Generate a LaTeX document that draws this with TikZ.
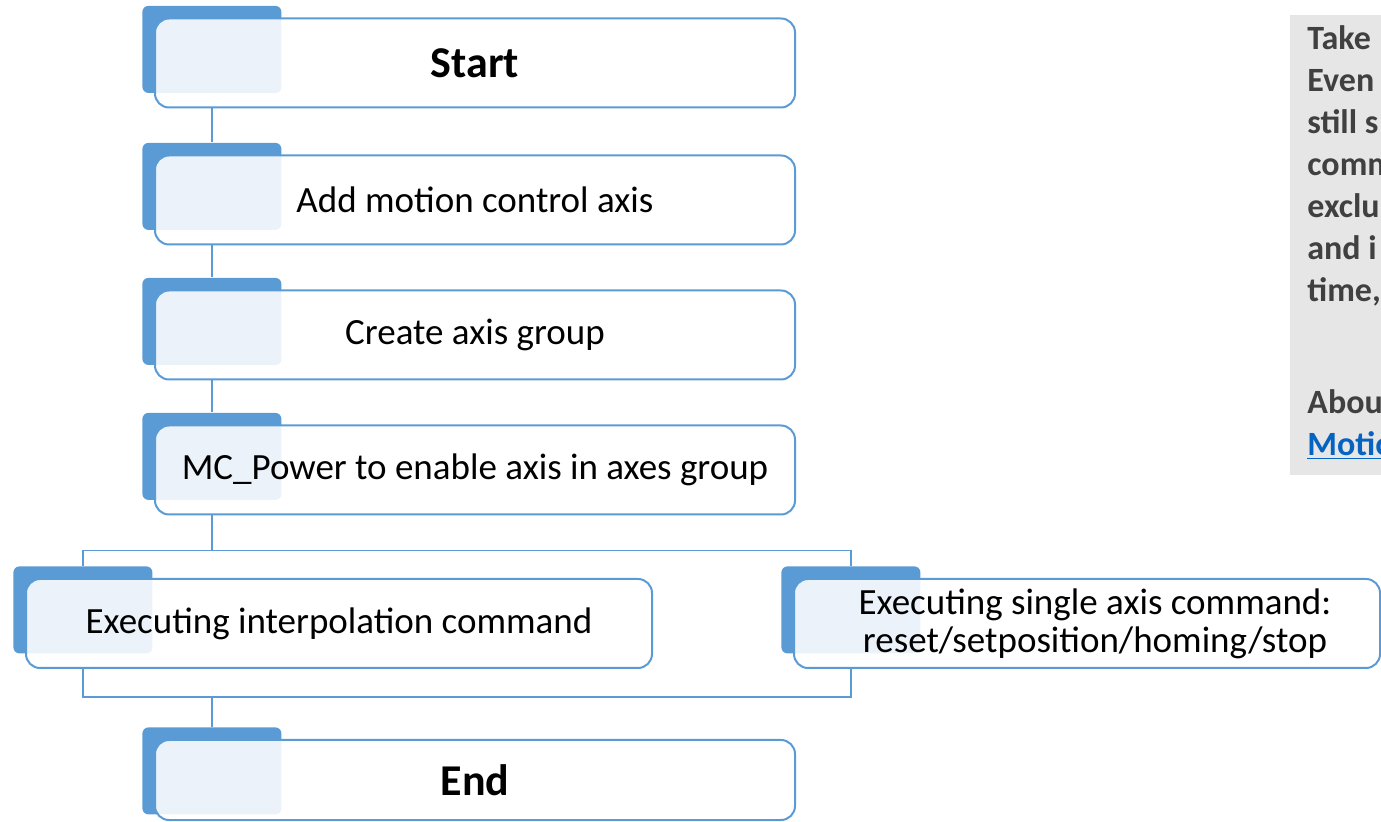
\documentclass[tikz,border=0pt]{standalone}
\usepackage{fontspec}
\setmainfont{Carlito}
\usetikzlibrary{positioning, calc, backgrounds}
\definecolor{boxblue}{HTML}{5B9BD5}
\definecolor{notegray}{HTML}{E7E6E6}
\definecolor{notetext}{HTML}{404040}
\definecolor{linkblue}{HTML}{0563C1}

\begin{document}
\begin{tikzpicture}[x=0.5pt, y=-0.5pt,
    stepbox/.style={draw=boxblue, line width=1pt, rounded corners=7pt, fill=white, fill opacity=0.88, text opacity=1,
        minimum width=320pt, minimum height=44.5pt, inner sep=0pt, align=center, font=\fontsize{18.5}{19}\selectfont},
    tabbox/.style={fill=boxblue, rounded corners=3pt, minimum width=69.5pt, minimum height=43.5pt, inner sep=0pt, anchor=north west},
    link/.style={draw=boxblue, line width=0.8pt}]
    \path[use as bounding box, clip] (0,0) rectangle (1381,822);

    % Hauptkette der Schritte
    \node[stepbox, font=\fontsize{22}{26}\selectfont\bfseries] (start) at (475,63) {Start};
    \node[stepbox, below=23pt of start] (addaxis) {Add motion control axis};
    \node[stepbox, below=22pt of addaxis] (group) {Create axis group};
    \node[stepbox, below=22pt of group] (power) {MC\_Power to enable axis in axes group};

    % Verzweigung
    \node[stepbox, minimum width=313pt] (interp) at (339,623.5) {Executing interpolation command};
    \node[stepbox, minimum width=293pt] (single) at (1087,623.5) {\hspace*{8pt}Executing single axis command:\\\hspace*{8pt}reset/setposition/homing/stop};

    \node[stepbox, minimum height=40pt, font=\fontsize{22}{26}\selectfont\bfseries] (end) at (475,780) {End};

    % Reiter hinter den Kästen
    \begin{scope}[on background layer]
        \node[tabbox] (tstart) at ($(start.north west)+(-12,-12)$) {};
        \node[tabbox] (taddaxis) at ($(addaxis.north west)+(-12,-12)$) {};
        \node[tabbox] (tgroup) at ($(group.north west)+(-12,-12)$) {};
        \node[tabbox] (tpower) at ($(power.north west)+(-12,-12)$) {};
        \node[tabbox] (tinterp) at ($(interp.north west)+(-12,-12)$) {};
        \node[tabbox] (tsingle) at ($(single.north west)+(-12,-12)$) {};
        \node[tabbox] (tend) at ($(end.north west)+(-12,-12)$) {};
    \end{scope}

    % Verbindungen
    \draw[link] (start.south -| taddaxis.north) -- (taddaxis.north);
    \draw[link] (addaxis.south -| tgroup.north) -- (tgroup.north);
    \draw[link] (group.south -| tpower.north) -- (tpower.north);
    \coordinate (fork) at ($(power.south -| tpower.north)+(0,35)$);
    \draw[link] (power.south -| tpower.north) -- (fork);
    \draw[link] (tinterp.north) |- (fork) -| (tsingle.north);
    \coordinate (join) at ($(tend.north)+(0,-30)$);
    \draw[link] (interp.south -| tinterp.north) |- (join) -| (single.south -| tsingle.north);
    \draw[link] (join) -- (tend.north);

    % Hinweisfeld rechts
    \node[fill=notegray, anchor=north west, minimum width=60pt, minimum height=230pt] (note) at (1290,15) {};
    \node[anchor=north west, inner sep=0pt, align=left, text=notetext, font=\fontsize{17}{21}\selectfont\bfseries] (notetext) at (1307,25) {Take\\Even\\still s\\comm\\exclu\\and i\\time,\\[35pt]Abou\\\textcolor{linkblue}{\underline{Motio}}};
\end{tikzpicture}
\end{document}
